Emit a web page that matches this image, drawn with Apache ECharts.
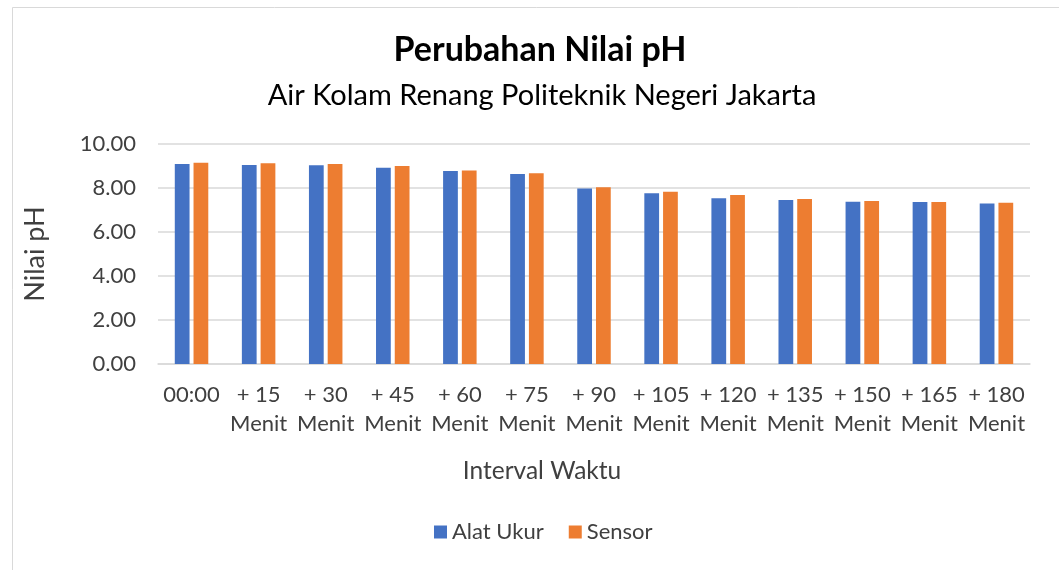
<!DOCTYPE html>
<html>
<head>
<meta charset="utf-8">
<script src="https://cdn.jsdelivr.net/npm/echarts@6/dist/echarts.min.js"></script>
<style>
  html, body { margin: 0; padding: 0; background: #fff; }
  #chart { width: 1059px; height: 570px; }
</style>
</head>
<body>
<div id="chart"></div>
<script>
// Time steps of the measurement run
const categories = ['00:00', '+ 15\nMenit', '+ 30\nMenit', '+ 45\nMenit', '+ 60\nMenit', '+ 75\nMenit',
  '+ 90\nMenit', '+ 105\nMenit', '+ 120\nMenit', '+ 135\nMenit', '+ 150\nMenit', '+ 165\nMenit', '+ 180\nMenit'];
// pH readings from the reference meter
const alatUkur = [9.09, 9.05, 9.03, 8.92, 8.77, 8.64, 7.98, 7.76, 7.53, 7.45, 7.38, 7.36, 7.30];
// pH readings from the sensor
const sensor = [9.15, 9.12, 9.09, 9.00, 8.79, 8.67, 8.03, 7.83, 7.68, 7.50, 7.41, 7.36, 7.33];
const yTicks = { min: 0, max: 10, interval: 2 };

const FONT = 'Lato';
const chart = echarts.init(document.getElementById('chart'), null, { renderer: 'canvas' });
chart.setOption({
  backgroundColor: '#fff',
  animation: false,
  textStyle: { fontFamily: FONT },
  graphic: [{
    type: 'rect', left: 10, top: 5, shape: { width: 1060, height: 580 },
    style: { fill: 'none', stroke: '#d9d9d9', lineWidth: 1 }
  }],
  title: [
    { text: 'Perubahan Nilai pH', left: 535, top: 28, textAlign: 'center',
      textStyle: { fontFamily: FONT, fontSize: 34, fontWeight: 'bold', color: '#000' } },
    { text: 'Air Kolam Renang Politeknik Negeri Jakarta', left: 537, top: 76, textAlign: 'center',
      textStyle: { fontFamily: FONT, fontSize: 29, fontWeight: 'normal', color: '#000' } },
    // x-axis title, centred on the whole chart area
    { text: 'Interval Waktu', left: 537, top: 454, textAlign: 'center',
      textStyle: { fontFamily: FONT, fontSize: 24.5, fontWeight: 'normal', color: '#404040' } }
  ],
  legend: {
    bottom: 22, left: 429, itemWidth: 13, itemHeight: 13, itemGap: 25,
    icon: 'rect',
    textStyle: { fontFamily: FONT, fontSize: 22, color: '#404040' },
    data: ['Alat Ukur', 'Sensor']
  },
  grid: { left: 158, right: 29, top: 144, bottom: 206 },
  xAxis: {
    type: 'category', data: categories,
    axisLine: { lineStyle: { color: '#d9d9d9', width: 1.5 } },
    axisTick: { show: false },
    axisLabel: { fontFamily: FONT, fontSize: 22, color: '#404040', lineHeight: 29, margin: 16, interval: 0 }
  },
  yAxis: {
    type: 'value', min: yTicks.min, max: yTicks.max, interval: yTicks.interval,
    name: 'Nilai pH', nameLocation: 'middle', nameGap: 109, nameRotate: 90,
    nameTextStyle: { fontFamily: FONT, fontSize: 27, color: '#404040' },
    axisLine: { show: false }, axisTick: { show: false },
    splitLine: { lineStyle: { color: '#d9d9d9', width: 1.5 } },
    axisLabel: { fontFamily: FONT, fontSize: 22, color: '#404040', margin: 22,
      formatter: v => v.toFixed(2) }
  },
  series: [
    { name: 'Alat Ukur', type: 'bar', data: alatUkur, barWidth: '22%', barGap: '27%',
      itemStyle: { color: '#4472c4' } },
    { name: 'Sensor', type: 'bar', data: sensor, barWidth: '22%',
      itemStyle: { color: '#ed7d31' } }
  ]
});
</script>
</body>
</html>
